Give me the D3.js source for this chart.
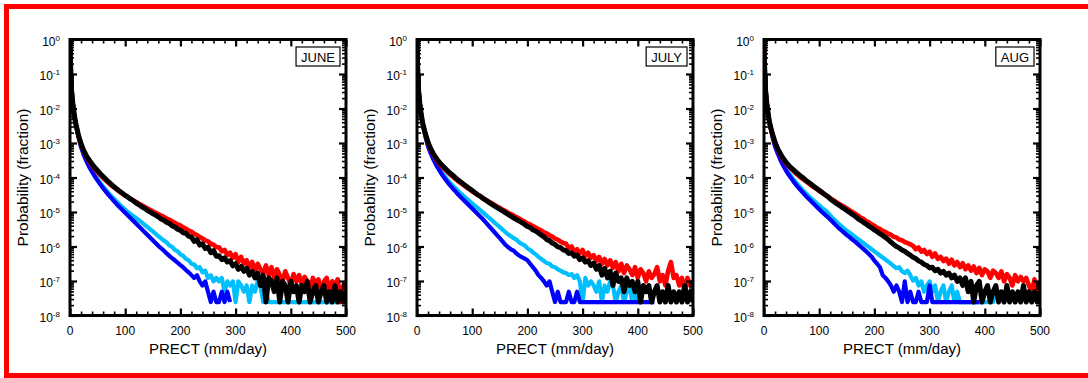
<!doctype html>
<html lang="en">
<head>
<meta charset="utf-8" />
<title>PRECT probability</title>
<script src="https://cdn.jsdelivr.net/npm/d3@7/dist/d3.min.js"></script>
<style>
 body {
   margin: 0;
   background: #fff;
   font-family: "Liberation Sans", Arial, Helvetica, sans-serif;
 }
</style>
</head>
<body>
<svg id="chart" width="1088" height="378"></svg>
<script>
// bin values (mm/day)
var precip = [0,1,2,3,5,7,10,15,
  20,25,30,35,40,45,50,55,60,65,
  70,75,80,85,90,95,100,105,110,115,
  120,125,130,135,140,145,150,155,160,165,
  170,175,180,185,190,195,200,205,210,215,
  220,225,230,235,240,245,250,255,260,265,
  270,275,280,285,290,295,300,305,310,315,
  320,325,330,335,340,345,350,355,360,365,
  370,375,380,385,390,395,400,405,410,415,
  420,425,430,435,440,445,450,455,460,465,
  470,475,480,485,490,495,500];

var months = ["JUNE", "JULY", "AUG"];
var yExponents = [0,-1,-2,-3,-4,-5,-6,-7,-8];
var xMajor = [0,100,200,300,400,500];

// log10(probability), one value per precip bin
var juneRed = [-0.0,-0.68,-1.18,-1.5,-1.85,-2.12,-2.42,-2.77,
  -3.05,-3.25,-3.41,-3.54,-3.65,-3.75,-3.85,-3.93,-4.01,-4.09,
  -4.16,-4.23,-4.29,-4.35,-4.41,-4.47,-4.52,-4.57,-4.62,-4.67,
  -4.71,-4.76,-4.8,-4.85,-4.89,-4.94,-4.98,-5.02,-5.06,-5.1,
  -5.14,-5.19,-5.22,-5.27,-5.31,-5.36,-5.39,-5.45,-5.48,-5.54,
  -5.57,-5.63,-5.67,-5.72,-5.77,-5.82,-5.85,-5.92,-5.95,-6.02,
  -6.02,-6.14,-6.1,-6.25,-6.18,-6.33,-6.22,-6.45,-6.3,-6.5,
  -6.4,-6.6,-6.45,-6.72,-6.5,-6.66,-6.77,-6.55,-6.83,-6.6,
  -6.91,-6.66,-6.83,-7.01,-6.72,-6.91,-7.13,-6.8,-7.01,-6.83,
  -7.13,-6.88,-7.01,-7.31,-6.91,-7.13,-6.95,-7.31,-7.01,-6.91,
  -7.31,-7.01,-7.13,-6.95,-7.61,-7.13,-7.31];
var juneBlack = [-0.02,-0.7,-1.2,-1.5,-1.85,-2.1,-2.4,-2.75,
  -3.02,-3.22,-3.38,-3.5,-3.61,-3.71,-3.8,-3.89,-3.97,-4.05,
  -4.13,-4.2,-4.27,-4.33,-4.4,-4.46,-4.52,-4.57,-4.63,-4.68,
  -4.74,-4.79,-4.85,-4.89,-4.95,-5.0,-5.05,-5.09,-5.14,-5.2,
  -5.24,-5.3,-5.33,-5.4,-5.43,-5.5,-5.53,-5.6,-5.62,-5.7,
  -5.73,-5.85,-5.8,-5.96,-5.92,-6.06,-6.02,-6.18,-6.12,-6.28,
  -6.27,-6.38,-6.33,-6.45,-6.41,-6.56,-6.5,-6.66,-6.58,-6.72,
  -6.63,-6.83,-6.72,-6.91,-6.77,-7.13,-6.83,-7.61,-6.91,-7.01,
  -7.31,-6.91,-7.61,-7.01,-7.13,-7.61,-7.01,-7.31,-7.13,-7.61,
  -7.13,-7.31,-7.01,-7.61,-7.31,-7.13,-7.61,-7.31,-7.13,-7.61,
  -7.31,-7.61,-7.13,-7.61,-7.31,-7.61,-7.31];
var juneCyan = [-0.02,-0.7,-1.15,-1.45,-1.8,-2.1,-2.42,-2.8,
  -3.1,-3.32,-3.5,-3.66,-3.8,-3.93,-4.05,-4.16,-4.26,-4.36,
  -4.45,-4.54,-4.62,-4.7,-4.78,-4.86,-4.93,-5.0,-5.06,-5.12,
  -5.18,-5.24,-5.3,-5.37,-5.43,-5.5,-5.56,-5.63,-5.7,-5.76,
  -5.83,-5.88,-5.97,-6.01,-6.1,-6.14,-6.23,-6.27,-6.36,-6.4,
  -6.5,-6.52,-6.63,-6.6,-6.75,-6.7,-6.91,-6.83,-7.01,-6.91,
  -7.01,-6.91,-7.31,-7.01,-7.13,-7.01,-7.61,-7.01,-7.13,-7.31,
  -7.13,-7.61,-7.13,-7.31,-7.01,-7.13,-7.61,-7.31,-7.61,-7.61,
  -7.61,-7.61,-7.61,-7.61,-7.61,-7.61,-7.61,-7.61,-7.61,-7.61,
  -7.61,-7.61,-7.61,-7.61,-7.61,-7.61,-7.61,-7.61,-7.61,-7.61,
  -7.61,-7.61,-7.61,-7.61,-7.61,-7.61,-7.61];
var juneBlue = [-0.02,-0.7,-1.15,-1.45,-1.8,-2.1,-2.42,-2.8,
  -3.12,-3.35,-3.53,-3.7,-3.84,-3.97,-4.09,-4.2,-4.31,-4.41,
  -4.51,-4.6,-4.69,-4.78,-4.86,-4.94,-5.02,-5.1,-5.18,-5.26,
  -5.34,-5.42,-5.5,-5.58,-5.66,-5.74,-5.82,-5.9,-5.98,-6.05,
  -6.12,-6.2,-6.27,-6.34,-6.4,-6.47,-6.54,-6.6,-6.68,-6.75,
  -6.83,-6.91,-6.83,-7.01,-7.13,-7.01,-7.31,-7.61,-7.31,-7.61,
  -7.61,-7.31,-7.61,-7.31,-7.61];

var julyRed = [-0.0,-0.68,-1.18,-1.5,-1.85,-2.12,-2.42,-2.74,
  -3.01,-3.2,-3.35,-3.48,-3.59,-3.68,-3.76,-3.84,-3.91,-3.98,
  -4.05,-4.11,-4.17,-4.23,-4.29,-4.34,-4.4,-4.45,-4.5,-4.55,
  -4.6,-4.65,-4.7,-4.74,-4.79,-4.84,-4.88,-4.93,-4.97,-5.02,
  -5.06,-5.1,-5.15,-5.19,-5.24,-5.28,-5.33,-5.36,-5.41,-5.45,
  -5.5,-5.53,-5.59,-5.62,-5.68,-5.71,-5.77,-5.8,-5.86,-5.9,
  -5.92,-6.05,-6.0,-6.14,-6.08,-6.2,-6.1,-6.28,-6.18,-6.33,
  -6.25,-6.42,-6.3,-6.5,-6.36,-6.55,-6.4,-6.62,-6.45,-6.72,
  -6.5,-6.77,-6.55,-6.66,-6.83,-6.6,-6.91,-6.66,-6.77,-7.01,
  -6.72,-6.91,-6.8,-6.6,-7.01,-6.83,-7.13,-6.7,-6.45,-6.91,
  -6.83,-7.13,-6.91,-7.31,-6.91,-7.13,-7.01];
var julyBlack = [-0.02,-0.7,-1.2,-1.5,-1.85,-2.1,-2.4,-2.72,
  -2.98,-3.17,-3.32,-3.44,-3.55,-3.64,-3.72,-3.8,-3.87,-3.94,
  -4.01,-4.08,-4.14,-4.2,-4.26,-4.32,-4.38,-4.44,-4.5,-4.55,
  -4.61,-4.66,-4.72,-4.77,-4.82,-4.87,-4.92,-4.97,-5.02,-5.07,
  -5.12,-5.17,-5.22,-5.26,-5.31,-5.36,-5.42,-5.45,-5.52,-5.55,
  -5.61,-5.67,-5.72,-5.8,-5.83,-5.9,-5.94,-6.01,-6.03,-6.1,
  -6.12,-6.2,-6.18,-6.28,-6.25,-6.38,-6.33,-6.45,-6.41,-6.55,
  -6.48,-6.66,-6.55,-6.83,-6.63,-6.91,-6.72,-7.13,-6.77,-7.01,
  -6.91,-7.31,-6.91,-7.13,-7.01,-7.31,-7.01,-7.61,-7.13,-7.31,
  -7.13,-7.61,-7.31,-7.13,-7.61,-7.31,-7.61,-7.13,-7.61,-7.31,
  -7.61,-7.31,-7.61,-7.13,-7.61,-7.31,-7.61];
var julyCyan = [-0.02,-0.7,-1.15,-1.45,-1.8,-2.1,-2.42,-2.78,
  -3.08,-3.28,-3.45,-3.6,-3.73,-3.85,-3.96,-4.06,-4.15,-4.24,
  -4.32,-4.4,-4.47,-4.54,-4.61,-4.68,-4.75,-4.82,-4.88,-4.95,
  -5.02,-5.09,-5.16,-5.23,-5.3,-5.37,-5.44,-5.51,-5.58,-5.65,
  -5.7,-5.76,-5.8,-5.88,-5.93,-5.97,-6.05,-6.1,-6.17,-6.23,
  -6.3,-6.36,-6.42,-6.48,-6.5,-6.58,-6.6,-6.66,-6.7,-6.75,
  -6.77,-6.83,-6.8,-6.91,-6.83,-7.01,-7.61,-6.91,-7.13,-7.01,
  -7.13,-7.31,-7.01,-7.61,-7.13,-7.31,-7.01,-7.13,-7.61,-7.31,
  -7.13,-7.61,-7.31,-7.13,-7.61,-7.31,-7.61];
var julyBlue = [-0.02,-0.7,-1.15,-1.45,-1.8,-2.1,-2.42,-2.8,
  -3.1,-3.31,-3.49,-3.65,-3.78,-3.91,-4.02,-4.13,-4.23,-4.32,
  -4.41,-4.5,-4.58,-4.66,-4.74,-4.82,-4.9,-4.98,-5.06,-5.14,
  -5.22,-5.31,-5.4,-5.49,-5.58,-5.67,-5.76,-5.85,-5.95,-6.02,
  -6.08,-6.12,-6.2,-6.26,-6.31,-6.35,-6.4,-6.5,-6.6,-6.7,
  -6.83,-6.91,-7.01,-7.13,-7.01,-7.31,-7.61,-7.31,-7.61,-7.61,
  -7.61,-7.31,-7.61,-7.61,-7.31,-7.61,-7.61,-7.61,-7.61,-7.61,
  -7.61,-7.61,-7.61,-7.61,-7.61,-7.61,-7.61,-7.61,-7.61,-7.61,
  -7.61,-7.61,-7.61,-7.61,-7.61,-7.61,-7.61,-7.61,-7.61,-7.61,
  -7.61,-7.61,-7.61];

var augRed = [-0.0,-0.68,-1.18,-1.5,-1.85,-2.12,-2.42,-2.74,
  -3.01,-3.2,-3.35,-3.48,-3.59,-3.68,-3.76,-3.84,-3.91,-3.98,
  -4.04,-4.1,-4.16,-4.22,-4.28,-4.33,-4.39,-4.44,-4.49,-4.54,
  -4.6,-4.65,-4.7,-4.75,-4.8,-4.85,-4.9,-4.95,-5.0,-5.05,
  -5.1,-5.16,-5.2,-5.26,-5.3,-5.36,-5.4,-5.46,-5.49,-5.55,
  -5.58,-5.63,-5.66,-5.72,-5.74,-5.8,-5.82,-5.87,-5.9,-5.94,
  -5.98,-6.08,-6.03,-6.15,-6.1,-6.22,-6.15,-6.3,-6.2,-6.36,
  -6.3,-6.42,-6.35,-6.5,-6.38,-6.55,-6.45,-6.6,-6.48,-6.66,
  -6.55,-6.7,-6.58,-6.77,-6.62,-6.83,-6.66,-6.72,-6.91,-6.7,
  -6.77,-6.91,-6.72,-7.01,-6.8,-6.91,-7.13,-6.83,-7.01,-6.88,
  -7.01,-6.91,-7.13,-7.31,-6.95,-7.61,-7.01];
var augBlack = [-0.02,-0.7,-1.2,-1.5,-1.85,-2.1,-2.4,-2.72,
  -2.98,-3.17,-3.32,-3.45,-3.56,-3.65,-3.73,-3.8,-3.87,-3.94,
  -4.0,-4.07,-4.13,-4.19,-4.25,-4.31,-4.37,-4.43,-4.49,-4.55,
  -4.62,-4.68,-4.74,-4.79,-4.85,-4.9,-4.96,-5.01,-5.07,-5.12,
  -5.19,-5.24,-5.3,-5.35,-5.41,-5.46,-5.52,-5.57,-5.63,-5.68,
  -5.74,-5.8,-5.87,-5.94,-6.0,-6.04,-6.1,-6.14,-6.2,-6.25,
  -6.31,-6.35,-6.42,-6.45,-6.52,-6.55,-6.62,-6.6,-6.7,-6.66,
  -6.77,-6.72,-6.83,-6.77,-6.91,-6.83,-7.01,-6.91,-7.13,-6.91,
  -7.31,-7.01,-7.61,-7.13,-7.01,-7.61,-7.31,-7.13,-7.61,-7.31,
  -7.13,-7.61,-7.31,-7.61,-7.13,-7.61,-7.31,-7.61,-7.31,-7.61,
  -7.13,-7.61,-7.31,-7.61,-7.31,-7.61,-7.31];
var augCyan = [-0.02,-0.7,-1.15,-1.45,-1.8,-2.1,-2.42,-2.78,
  -3.08,-3.28,-3.46,-3.61,-3.75,-3.87,-3.98,-4.08,-4.18,-4.27,
  -4.36,-4.44,-4.52,-4.6,-4.67,-4.74,-4.81,-4.88,-4.94,-5.01,
  -5.1,-5.18,-5.26,-5.34,-5.41,-5.48,-5.54,-5.6,-5.66,-5.72,
  -5.78,-5.84,-5.9,-5.96,-6.02,-6.08,-6.14,-6.2,-6.26,-6.32,
  -6.38,-6.44,-6.5,-6.57,-6.63,-6.6,-6.72,-6.77,-6.7,-6.83,
  -6.99,-6.91,-7.13,-7.01,-7.31,-7.13,-7.01,-7.31,-7.13,-7.61,
  -7.31,-7.13,-7.61,-7.31,-7.13,-7.61,-7.31,-7.61,-7.61,-7.61,
  -7.61,-7.61,-7.61,-7.61,-7.61,-7.61,-7.61,-7.61,-7.61,-7.61,
  -7.31,-7.61];
var augBlue = [-0.02,-0.7,-1.15,-1.45,-1.8,-2.1,-2.42,-2.8,
  -3.1,-3.31,-3.5,-3.66,-3.8,-3.93,-4.04,-4.15,-4.25,-4.34,
  -4.43,-4.52,-4.6,-4.68,-4.76,-4.84,-4.92,-5.0,-5.07,-5.14,
  -5.22,-5.3,-5.38,-5.46,-5.53,-5.6,-5.67,-5.73,-5.8,-5.86,
  -5.93,-6.0,-6.07,-6.14,-6.22,-6.3,-6.41,-6.5,-6.6,-6.83,
  -6.91,-7.01,-7.13,-7.31,-7.13,-7.31,-7.61,-7.01,-7.61,-7.31,
  -7.61,-7.61,-7.31,-7.61,-7.61,-7.61,-7.13,-7.61,-7.61,-7.61,
  -7.61,-7.61,-7.61,-7.61,-7.61,-7.61,-7.61,-7.61,-7.61,-7.61,
  -7.61,-7.61,-7.61,-7.61,-7.61];

var panels = [
  {month: months[0], series: {cyan: juneCyan, blue: juneBlue, red: juneRed, black: juneBlack}},
  {month: months[1], series: {cyan: julyCyan, blue: julyBlue, red: julyRed, black: julyBlack}},
  {month: months[2], series: {cyan: augCyan, blue: augBlue, red: augRed, black: augBlack}}
];

var drawOrder = ["cyan", "blue", "red", "black"];
var colors = {cyan: "#00bfff", blue: "#0000ff", red: "#ff0000", black: "#000000"};
var widths = {cyan: 4.2, blue: 4.2, red: 4.6, black: 5};

var svg = d3.select("#chart");
var plotW = 276, plotH = 276, plotTop = 39.5;
var lefts = [70, 417, 764];

svg.append("rect")
  .attr("x", 6.5).attr("y", 6.5)
  .attr("width", 1100).attr("height", 369)
  .attr("fill", "none")
  .attr("stroke", "#ff0000")
  .attr("stroke-width", 5);

panels.forEach(function(p, i) {
  var x0 = lefts[i];
  var x = d3.scaleLinear().domain([0, 500]).range([x0, x0 + plotW]);
  var y = d3.scaleLog().domain([1e-8, 1]).range([plotTop + plotH, plotTop]);
  var g = svg.append("g");

  var clipId = "clip" + i;
  g.append("clipPath").attr("id", clipId)
    .append("rect")
    .attr("x", x0 - 1).attr("y", plotTop - 2)
    .attr("width", plotW + 2).attr("height", plotH + 2);

  var line = d3.line()
    .x(function(d) { return x(d[0]); })
    .y(function(d) { return y(Math.pow(10, d[1])); });

  drawOrder.forEach(function(key) {
    var pts = p.series[key].map(function(v, j) { return [precip[j], v]; });
    g.append("path")
      .attr("d", line(pts))
      .attr("fill", "none")
      .attr("stroke", colors[key])
      .attr("stroke-width", widths[key])
      .attr("stroke-linejoin", "round")
      .attr("clip-path", "url(#" + clipId + ")");
  });

  // ticks, all pointing inward
  var minorY = y.ticks().filter(function(t) {
    var e = Math.log10(t);
    return Math.abs(e - Math.round(e)) > 1e-6;
  });
  var majorY = yExponents.map(function(e) { return Math.pow(10, e); });
  var minorX = x.ticks(25).filter(function(t) { return t % 100 !== 0; });

  function addAxis(axis, tx, ty, sw) {
    var a = g.append("g")
      .attr("transform", "translate(" + tx + "," + ty + ")")
      .call(axis);
    a.select(".domain").remove();
    a.selectAll(".tick text").remove();
    a.selectAll(".tick line").attr("stroke", "#000").attr("stroke-width", sw);
  }
  addAxis(d3.axisLeft(y).tickValues(majorY).tickSize(-7).tickFormat(""), x0, 0, 2.2);
  addAxis(d3.axisLeft(y).tickValues(minorY).tickSize(-4).tickFormat(""), x0, 0, 1.6);
  addAxis(d3.axisRight(y).tickValues(majorY).tickSize(-7).tickFormat(""), x0 + plotW, 0, 2.2);
  addAxis(d3.axisRight(y).tickValues(minorY).tickSize(-4).tickFormat(""), x0 + plotW, 0, 1.6);
  addAxis(d3.axisBottom(x).tickValues(xMajor).tickSize(-7).tickFormat(""), 0, plotTop + plotH, 2.2);
  addAxis(d3.axisBottom(x).tickValues(minorX).tickSize(-4).tickFormat(""), 0, plotTop + plotH, 1.6);
  addAxis(d3.axisTop(x).tickValues(xMajor).tickSize(-7).tickFormat(""), 0, plotTop, 2.2);
  addAxis(d3.axisTop(x).tickValues(minorX).tickSize(-4).tickFormat(""), 0, plotTop, 1.6);

  g.append("rect")
    .attr("x", x0).attr("y", plotTop)
    .attr("width", plotW).attr("height", plotH)
    .attr("fill", "none")
    .attr("stroke", "#000")
    .attr("stroke-width", 3);

  // y tick labels 10^n
  yExponents.forEach(function(e) {
    var t = g.append("text")
      .attr("x", x0 - 10)
      .attr("y", y(Math.pow(10, e)) + 6)
      .attr("text-anchor", "end")
      .attr("font-size", 12)
      .attr("fill", "#000");
    t.append("tspan").text("10");
    t.append("tspan")
      .attr("dy", -5)
      .attr("font-size", 8)
      .text(e);
  });

  // x tick labels
  xMajor.forEach(function(v) {
    g.append("text")
      .attr("x", x(v))
      .attr("y", plotTop + plotH + 19)
      .attr("text-anchor", "middle")
      .attr("font-size", 12)
      .text(v);
  });

  g.append("text")
    .attr("x", x0 + plotW / 2)
    .attr("y", 354)
    .attr("text-anchor", "middle")
    .attr("font-size", 15)
    .text("PRECT (mm/day)");

  g.append("text")
    .attr("transform", "translate(" + (x0 - 42) + "," + (plotTop + plotH / 2) + ") rotate(-90)")
    .attr("text-anchor", "middle")
    .attr("font-size", 15.5)
    .text("Probability (fraction)");

  // month label box
  var box = g.append("rect");
  var lab = g.append("text")
    .attr("x", x0 + plotW - 11)
    .attr("y", plotTop + 22)
    .attr("text-anchor", "end")
    .attr("font-size", 13)
    .text(p.month);
  var tw = lab.node().getComputedTextLength();
  box.attr("x", x0 + plotW - 6 - tw - 10)
    .attr("y", plotTop + 7.5)
    .attr("width", tw + 10)
    .attr("height", 19)
    .attr("fill", "#fff")
    .attr("stroke", "#000")
    .attr("stroke-width", 1.2);
});
</script>
</body>
</html>
